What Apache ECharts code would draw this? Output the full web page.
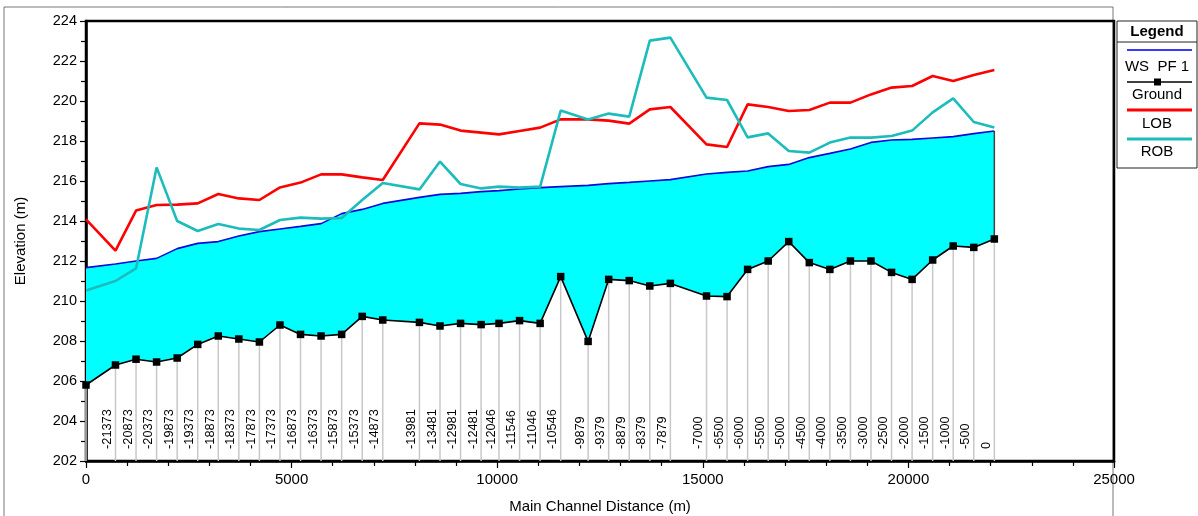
<!DOCTYPE html>
<html>
<head>
<meta charset="utf-8">
<script src="https://cdn.jsdelivr.net/npm/echarts@6/dist/echarts.min.js"></script>
<style>
html, body { margin: 0; padding: 0; background: #fff; }
#chart { width: 1198px; height: 516px; }
</style>
</head>
<body>
<div id="chart"></div>
<script>
// River stations of the cross sections (first section is unlabeled)
const stationLabels = ['', '-21373', '-20873', '-20373', '-19873', '-19373', '-18873', '-18373', '-17873',
  '-17373', '-16873', '-16373', '-15873', '-15373', '-14873', '-13981', '-13481', '-12981', '-12481',
  '-12046', '-11546', '-11046', '-10546', '-9879', '-9379', '-8879', '-8379', '-7879', '-7000', '-6500',
  '-6000', '-5500', '-5000', '-4500', '-4000', '-3500', '-3000', '-2500', '-2000', '-1500', '-1000', '-500', '0'];

// Main channel distance of each section (m)
const distance = [0, 717, 1217, 1717, 2217, 2717, 3217, 3717, 4217, 4717, 5217, 5717, 6217, 6717, 7217,
  8109, 8609, 9109, 9609, 10044, 10544, 11044, 11544, 12211, 12711, 13211, 13711, 14211,
  15090, 15590, 16090, 16590, 17090, 17590, 18090, 18590, 19090, 19590, 20090, 20590, 21090, 21590, 22090];

// Channel bed elevation (m)
const groundElev = [205.8, 206.8, 207.09, 206.95, 207.15, 207.83, 208.25, 208.1, 207.95, 208.8, 208.33,
  208.25, 208.33, 209.23, 209.05, 208.93, 208.75, 208.88, 208.82, 208.88, 209.02, 208.88, 211.22, 207.98,
  211.08, 211.02, 210.75, 210.88, 210.25, 210.22, 211.58, 212.0, 212.97, 211.92, 211.58, 212.0, 212.0,
  211.43, 211.08, 212.05, 212.75, 212.68, 213.1];

// Water surface, profile PF 1 (m)
const wsElev = [211.67, 211.85, 212.0, 212.13, 212.62, 212.88, 212.97, 213.25, 213.47, 213.6, 213.73,
  213.87, 214.37, 214.58, 214.88, 215.18, 215.33, 215.38, 215.47, 215.52, 215.6, 215.67, 215.72, 215.78,
  215.87, 215.93, 216.0, 216.07, 216.35, 216.43, 216.5, 216.72, 216.83, 217.17, 217.38, 217.6, 217.93,
  218.05, 218.08, 218.15, 218.22, 218.37, 218.5];

// Left overbank elevation (m)
const lobElev = [214.08, 212.52, 214.52, 214.8, 214.82, 214.88, 215.35, 215.13, 215.05, 215.68, 215.92,
  216.33, 216.33, 216.18, 216.05, 218.88, 218.82, 218.52, 218.42, 218.33, 218.5, 218.67, 219.08, 219.08,
  219.02, 218.87, 219.58, 219.7, 217.83, 217.7, 219.83, 219.7, 219.5, 219.55, 219.92, 219.92, 220.33,
  220.67, 220.75, 221.25, 221.0, 221.3, 221.55];

// Right overbank elevation (m)
const robElev = [210.52, 211.0, 211.63, 216.68, 214.0, 213.5, 213.85, 213.62, 213.55, 214.05, 214.17,
  214.12, 214.15, 215.05, 215.9, 215.58, 216.97, 215.85, 215.63, 215.72, 215.67, 215.72, 219.52, 219.08,
  219.37, 219.22, 223.02, 223.17, 220.17, 220.05, 218.18, 218.38, 217.5, 217.42, 217.92, 218.17, 218.17,
  218.25, 218.52, 219.43, 220.13, 218.95, 218.67];

// Axis ranges: [min, max, interval]
const xRange = [0, 25000, 5000];
const yRange = [202, 224, 2];

const FONT = '"Liberation Sans", Arial, sans-serif';
const pair = (ys) => distance.map((d, i) => [d, ys[i]]);

const chart = echarts.init(document.getElementById('chart'), null, { renderer: 'canvas' });

// Legend box drawn at the right of the plot
const LX = 1117, LW = 80, LC = LX + LW / 2;
const legendEntries = [
  { name: 'WS  PF 1', color: '#3a3aff', width: 2, lineY: 50, textY: 67 },
  { name: 'Ground', color: '#000000', width: 1.5, lineY: 82, textY: 95, marker: true },
  { name: 'LOB', color: '#ff0000', width: 3, lineY: 110, textY: 124 },
  { name: 'ROB', color: '#1cbcbc', width: 3, lineY: 139, textY: 152 }
];
const legendGraphics = [
  { type: 'rect', shape: { x: LX, y: 21, width: LW, height: 147 }, style: { fill: '#fff', stroke: '#222', lineWidth: 1 } },
  { type: 'text', x: LC, y: 32, style: { text: 'Legend', font: 'bold 15px ' + FONT, fill: '#000', align: 'center', verticalAlign: 'middle' } },
  { type: 'line', shape: { x1: LX, y1: 42, x2: LX + LW, y2: 42 }, style: { stroke: '#222', lineWidth: 1 } }
];
legendEntries.forEach(e => {
  legendGraphics.push({ type: 'line', shape: { x1: LX + 10, y1: e.lineY, x2: LX + LW - 5, y2: e.lineY }, style: { stroke: e.color, lineWidth: e.width } });
  if (e.marker) {
    legendGraphics.push({ type: 'rect', shape: { x: LC - 3, y: e.lineY - 3.5, width: 7, height: 7 }, style: { fill: '#000' } });
  }
  legendGraphics.push({ type: 'text', x: LC, y: e.textY, style: { text: e.name, font: '15px ' + FONT, fill: '#000', align: 'center', verticalAlign: 'middle' } });
});

const option = {
  animation: false,
  backgroundColor: '#ffffff',
  textStyle: { fontFamily: FONT },
  grid: {
    left: 86, right: 84, top: 21, bottom: 55,
    containLabel: false, outerBoundsMode: 'none',
    show: true, borderColor: '#000', borderWidth: 2.5, backgroundColor: 'transparent'
  },
  xAxis: {
    type: 'value', min: xRange[0], max: xRange[1], interval: xRange[2],
    name: 'Main Channel Distance (m)', nameLocation: 'middle', nameGap: 38,
    nameTextStyle: { fontSize: 15, color: '#000', fontFamily: FONT },
    axisLine: { show: true, lineStyle: { color: '#000', width: 2.5 } },
    axisTick: { show: true, inside: false, length: 7, lineStyle: { color: '#000', width: 1.2 } },
    minorTick: { show: true, splitNumber: 5, length: 5, lineStyle: { color: '#000', width: 1.2 } },
    axisLabel: { fontSize: 15, color: '#000', margin: 11, fontFamily: FONT, formatter: (v) => String(v) },
    splitLine: { show: false }, minorSplitLine: { show: false }
  },
  yAxis: {
    type: 'value', min: yRange[0], max: yRange[1], interval: yRange[2],
    name: 'Elevation (m)', nameLocation: 'middle', nameGap: 58, nameRotate: 90,
    nameTextStyle: { fontSize: 15, color: '#000', fontFamily: FONT },
    axisLine: { show: true, lineStyle: { color: '#000', width: 2.5 } },
    axisTick: { show: true, inside: false, length: 6, lineStyle: { color: '#000', width: 1.2 } },
    minorTick: { show: true, splitNumber: 2, length: 5, lineStyle: { color: '#000', width: 1.2 } },
    axisLabel: { fontSize: 14.5, color: '#000', margin: 9, fontFamily: FONT, formatter: (v) => String(v) },
    splitLine: { show: false }, minorSplitLine: { show: false }
  },
  graphic: [
    // outer frame of the figure
    { type: 'rect', z: -10, silent: true, shape: { x: 4, y: 7, width: 1109, height: 530 }, style: { fill: 'none', stroke: '#777', lineWidth: 1 } }
  ].concat(legendGraphics),
  series: [
    {
      // water between the bed and the water surface
      name: 'flow area', type: 'custom', silent: true, z: 1,
      data: [[distance[0], groundElev[0]]],
      renderItem: function (params, api) {
        const top = distance.map((d, i) => api.coord([d, wsElev[i]]));
        const bottom = distance.map((d, i) => api.coord([d, groundElev[i]])).reverse();
        const last = distance.length - 1;
        const a = api.coord([distance[last], wsElev[last]]);
        const b = api.coord([distance[last], groundElev[last]]);
        return {
          type: 'group',
          children: [
            { type: 'polygon', shape: { points: top.concat(bottom) }, style: { fill: '#00ffff', stroke: null } },
            { type: 'line', shape: { x1: a[0], y1: a[1], x2: b[0], y2: b[1] }, style: { stroke: '#444', lineWidth: 1.5 } }
          ]
        };
      }
    },
    {
      // station drop lines and river station labels
      name: 'stations', type: 'custom', silent: true, z: 2,
      data: distance.map((d, i) => [d, groundElev[i]]),
      renderItem: function (params, api) {
        const i = params.dataIndex;
        const p = api.coord([distance[i], groundElev[i]]);
        const b = api.coord([distance[i], yRange[0]]);
        const children = [
          { type: 'line', shape: { x1: p[0], y1: p[1], x2: b[0], y2: b[1] }, style: { stroke: '#c8c8c8', lineWidth: 1.5 } }
        ];
        if (stationLabels[i]) {
          children.push({
            type: 'text', x: p[0] - 1.5, y: b[1] - 12, rotation: Math.PI / 2,
            style: { text: stationLabels[i], font: '12.8px ' + FONT, fill: '#000', align: 'left', verticalAlign: 'bottom' }
          });
        }
        return { type: 'group', children: children };
      }
    },
    {
      name: 'WS PF 1', type: 'line', z: 3, data: pair(wsElev), symbol: 'none',
      lineStyle: { color: '#0a0ad8', width: 1.6 }, itemStyle: { color: '#0a0ad8' }
    },
    {
      name: 'Ground', type: 'line', z: 4, data: pair(groundElev), symbol: 'rect', symbolSize: 7.5,
      showAllSymbol: true,
      lineStyle: { color: '#000', width: 1.6 }, itemStyle: { color: '#000' }
    },
    {
      name: 'LOB', type: 'line', z: 5, data: pair(lobElev), symbol: 'none',
      lineStyle: { color: '#ff0000', width: 2.6 }, itemStyle: { color: '#ff0000' }
    },
    {
      name: 'ROB', type: 'line', z: 6, data: pair(robElev), symbol: 'none',
      lineStyle: { color: '#1cbcbc', width: 2.6 }, itemStyle: { color: '#1cbcbc' }
    }
  ]
};

chart.setOption(option);
</script>
</body>
</html>
